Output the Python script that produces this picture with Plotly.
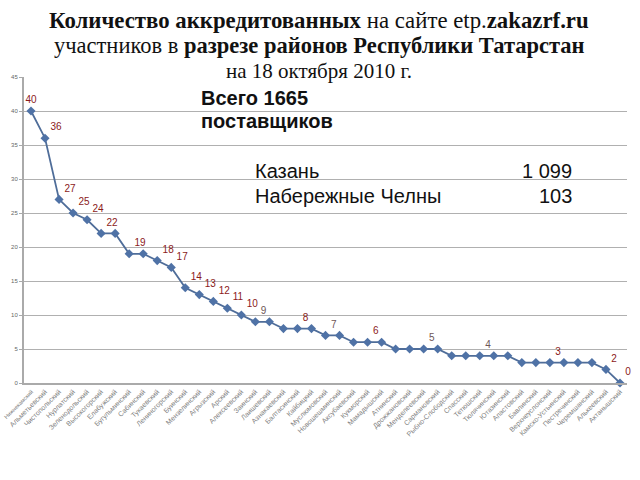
import plotly.graph_objects as go

districts = [
    "Нижнекамский", "Альметьевский", "Чистопольский", "Нурлатский", "Зеленодольский",
    "Высокогорский", "Елабужский", "Бугульминский", "Сабинский", "Тукаевский",
    "Лениногорский", "Буинский", "Мензелинский", "Агрызский", "Арский",
    "Алексеевский", "Заинский", "Лаишевский", "Азнакаевский", "Балтасинский",
    "Кайбицкий", "Муслюмовский", "Новошешминский", "Аксубаевский", "Кукморский",
    "Мамадышский", "Атнинский", "Дрожжановский", "Менделеевский", "Сармановский",
    "Рыбно-Слободский", "Спасский", "Тетюшский", "Тюлячинский", "Ютазинский",
    "Апастовский", "Бавлинский", "Верхнеуслонский", "Камско-Устьинский", "Пестречинский",
    "Черемшанский", "Алькеевский", "Актанышский",
]
suppliers = [40, 36, 27, 25, 24, 22, 22, 19, 19, 18, 17, 14, 13, 12, 11, 10, 9, 9, 8, 8,
             8, 7, 7, 6, 6, 6, 5, 5, 5, 5, 4, 4, 4, 4, 4, 3, 3, 3, 3, 3, 3, 2, 0]
labelled = [0, 1, 2, 3, 4, 5, 7, 9, 10, 11, 12, 13, 14, 15, 16, 19, 21, 24, 28, 32, 37, 41, 42]
grey_labelled = [16, 21, 28, 32]
y_ticks = [0, 5, 10, 15, 20, 25, 30, 35, 40, 45]

texts = [str(v) if i in labelled else "" for i, v in enumerate(suppliers)]
text_colors = ["#6e5656" if i in grey_labelled else "#8b1a1a" for i in range(len(suppliers))]
text_pos = ["top center" if i == 0 else "top right" for i in range(len(suppliers))]
# first label shrunk slightly so it stays inside the page
tick_text = ['<span style="font-size:5.6px">' + d + '</span>' if i == 0 else d
             for i, d in enumerate(districts)]

W, H = 640, 480
L, R, T, B = 24, 627, 77, 383


def px(x):
    return (x - L) / (R - L)


def py(y):
    return (B - y) / (B - T)


fig = go.Figure()
fig.add_trace(go.Scatter(
    x=districts, y=suppliers, mode="lines+markers+text",
    line=dict(color="#4f6d99", width=1.8),
    marker=dict(symbol="diamond", size=7, color="#4f72a6"),
    text=texts, textposition=text_pos,
    textfont=dict(family="Liberation Sans", size=10, color=text_colors),
    cliponaxis=False, hoverinfo="skip",
))

fig.update_layout(
    width=W, height=H,
    margin=dict(l=L, r=W - R, t=T, b=H - B, autoexpand=False),
    paper_bgcolor="white", plot_bgcolor="white",
    showlegend=False,
    xaxis=dict(
        type="category", range=[-0.5, len(districts) - 0.5], automargin=False,
        tickvals=districts, ticktext=tick_text,
        tickangle=-45, tickfont=dict(family="Liberation Sans", size=7, color="#808080"),
        showgrid=False, showline=True, linecolor="#aaaaaa", linewidth=2,
        ticks="", fixedrange=True,
    ),
    yaxis=dict(
        range=[0, 45], tickvals=y_ticks, automargin=False,
        tickfont=dict(family="Liberation Sans", size=6, color="#666"),
        showgrid=True, gridcolor="#b0b0b0", gridwidth=1,
        showline=True, linecolor="#aaaaaa", linewidth=2,
        ticks="outside", ticklen=3, tickcolor="#aaaaaa",
        zeroline=False, fixedrange=True,
    ),
)

serif = "Liberation Serif"
title_lines = [
    ("<b>Количество аккредитованных</b> на сайте etp.<b>zakazrf.ru</b>", 20, 22.8),
    ("участников в <b>разрезе районов Республики Татарстан</b>", 46, 22.5),
    ("на 18 октября 2010 г.", 71, 21),
]
for txt, yc, fs in title_lines:
    fig.add_annotation(text=txt, xref="paper", yref="paper", x=px(319), y=py(yc),
                       xanchor="center", yanchor="middle", showarrow=False,
                       font=dict(family=serif, size=fs, color="#111"))

for txt, yc in [("<b>Всего 1665</b>", 98), ("<b>поставщиков</b>", 121)]:
    fig.add_annotation(text=txt, xref="paper", yref="paper", x=px(199), y=py(yc),
                       xanchor="left", yanchor="middle", showarrow=False,
                       font=dict(family="Liberation Sans", size=20, color="#111"))

for name, val, yc in [("Казань", "1 099", 171), ("Набережные Челны", "103", 196)]:
    fig.add_annotation(text=name, xref="paper", yref="paper", x=px(253), y=py(yc),
                       xanchor="left", yanchor="middle", showarrow=False,
                       font=dict(family="Liberation Sans", size=20, color="#111"))
    fig.add_annotation(text=val, xref="paper", yref="paper", x=px(574), y=py(yc),
                       xanchor="right", yanchor="middle", showarrow=False,
                       font=dict(family="Liberation Sans", size=20, color="#111"))

fig.write_html("out.html")
